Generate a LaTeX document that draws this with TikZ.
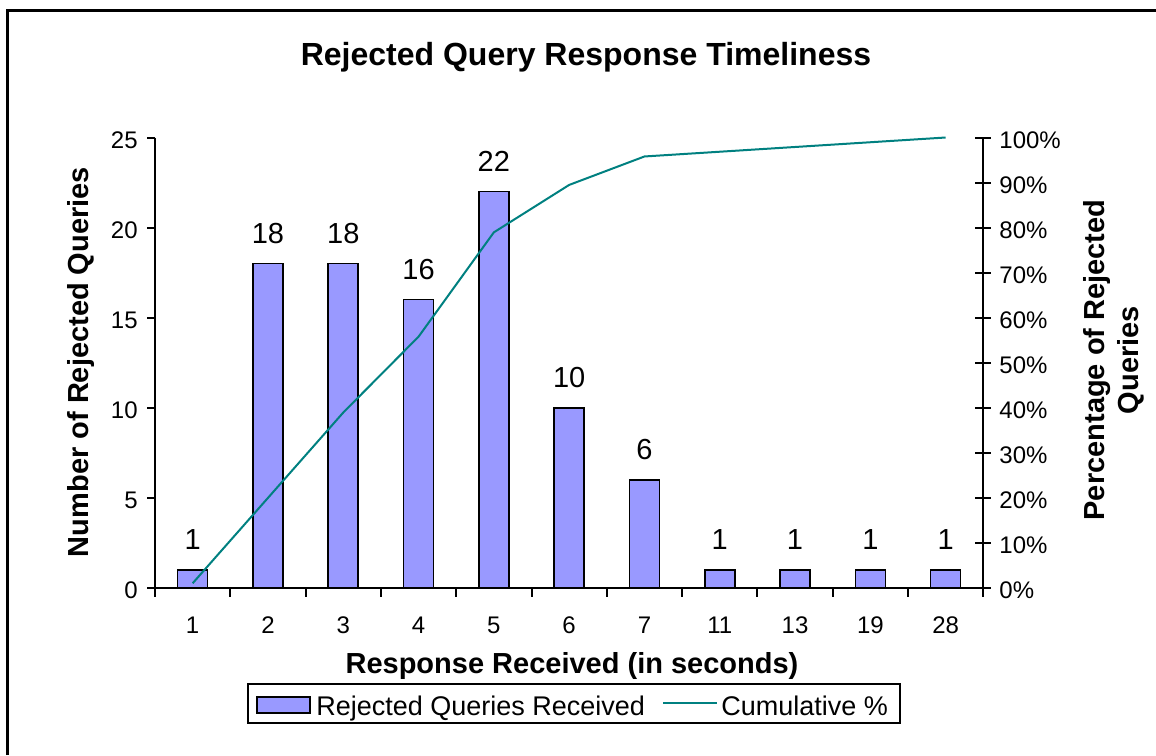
\documentclass[tikz,border=0pt]{standalone}
\usepackage{fontspec}
\setmainfont{Liberation Sans}
\usepackage{tikz}
\usetikzlibrary{positioning}
\definecolor{barblue}{HTML}{9999FF}
\definecolor{cumteal}{HTML}{008080}

\begin{document}
\begin{tikzpicture}[
  x=0.5pt,y=-0.5pt,
  frame/.style={line width=1.5pt},
  axis/.style={line width=1pt},
  bar/.style={draw=black,fill=barblue,line width=0.8pt},
  cumline/.style={draw=cumteal,line width=1pt},
  ticklabel/.style={font=\fontsize{12}{14}\selectfont,inner sep=0pt},
  barlabel/.style={font=\fontsize{14.5}{17}\selectfont,inner sep=0pt,anchor=base},
  axistitle/.style={font=\bfseries\fontsize{14.5}{17}\selectfont,inner sep=0pt,align=center},
  legendtext/.style={font=\fontsize{13.5}{16}\selectfont,inner sep=0pt,anchor=base west}
]
\useasboundingbox (0,0) rectangle (1156,755);
\draw[frame] (7,755) -- (7,10) -- (1156,10);

\node[font=\bfseries\fontsize{16}{19}\selectfont,inner sep=0pt,anchor=base] (title) at (586,65) {Rejected Query Response Timeliness};

\foreach \n [count=\i] in {1,18,18,16,22,10,6,1,1,1,1} {
  \pgfmathsetmacro\cx{155+(\i-0.5)*75.3}
  \pgfmathsetmacro\bartop{588-\n*18.02}
  \draw[bar] (\cx-15,588) rectangle (\cx+15,\bartop);
  \node[barlabel] (lbl\i) at (\cx,\bartop-20) {\n};
}

\foreach \c [count=\i] in {1,19,37,53,75,85,91,92,93,94,95}
  \coordinate (p\i) at ({155+(\i-0.5)*75.3},{588-\c/95*450.5});
\draw[cumline] (p1) \foreach \i in {2,...,11} {-- (p\i)};

\draw[axis] (155,137.5) -- (155,588) -- (983.3,588);
\draw[axis] (983.3,137.5) -- (983.3,588);
\foreach \k in {0,...,11}
  \draw[axis] ({155+\k*75.3},588) -- ++(0,9);

\foreach \v in {0,5,...,25} {
  \draw[axis] (147,{588-\v*18.02}) -- (155,{588-\v*18.02});
  \node[ticklabel,anchor=base east] (yl\v) at (138,{598.5-\v*18.02}) {\v};
}
\foreach \v in {0,10,...,100} {
  \draw[axis] (975,{588-\v*4.505}) -- (991,{588-\v*4.505});
  \node[ticklabel,anchor=base west] (pl\v) at (999,{598.5-\v*4.505}) {\v\%};
}
\foreach \s [count=\i] in {1,2,3,4,5,6,7,11,13,19,28}
  \node[ticklabel,anchor=base] (xl\i) at ({155+(\i-0.5)*75.3},633) {\s};

\node[axistitle,anchor=base] (xtitle) at (572,673) {Response Received (in seconds)};
\node[axistitle,rotate=90] (ytitle) at (81,362) {Number of Rejected Queries};
\node[axistitle,rotate=90] (ptitle) at (1113.5,360) {Percentage of Rejected\\Queries};

\draw[axis] (248,684) rectangle (900,723);
\draw[bar,line width=1.2pt] (257,697) rectangle (310,713);
\node[legendtext] (legbar) at (316,715) {Rejected Queries Received};
\draw[cumline] (663,703) -- (717,703);
\node[legendtext] (legcum) at (721,715) {Cumulative \%};
\end{tikzpicture}
\end{document}
